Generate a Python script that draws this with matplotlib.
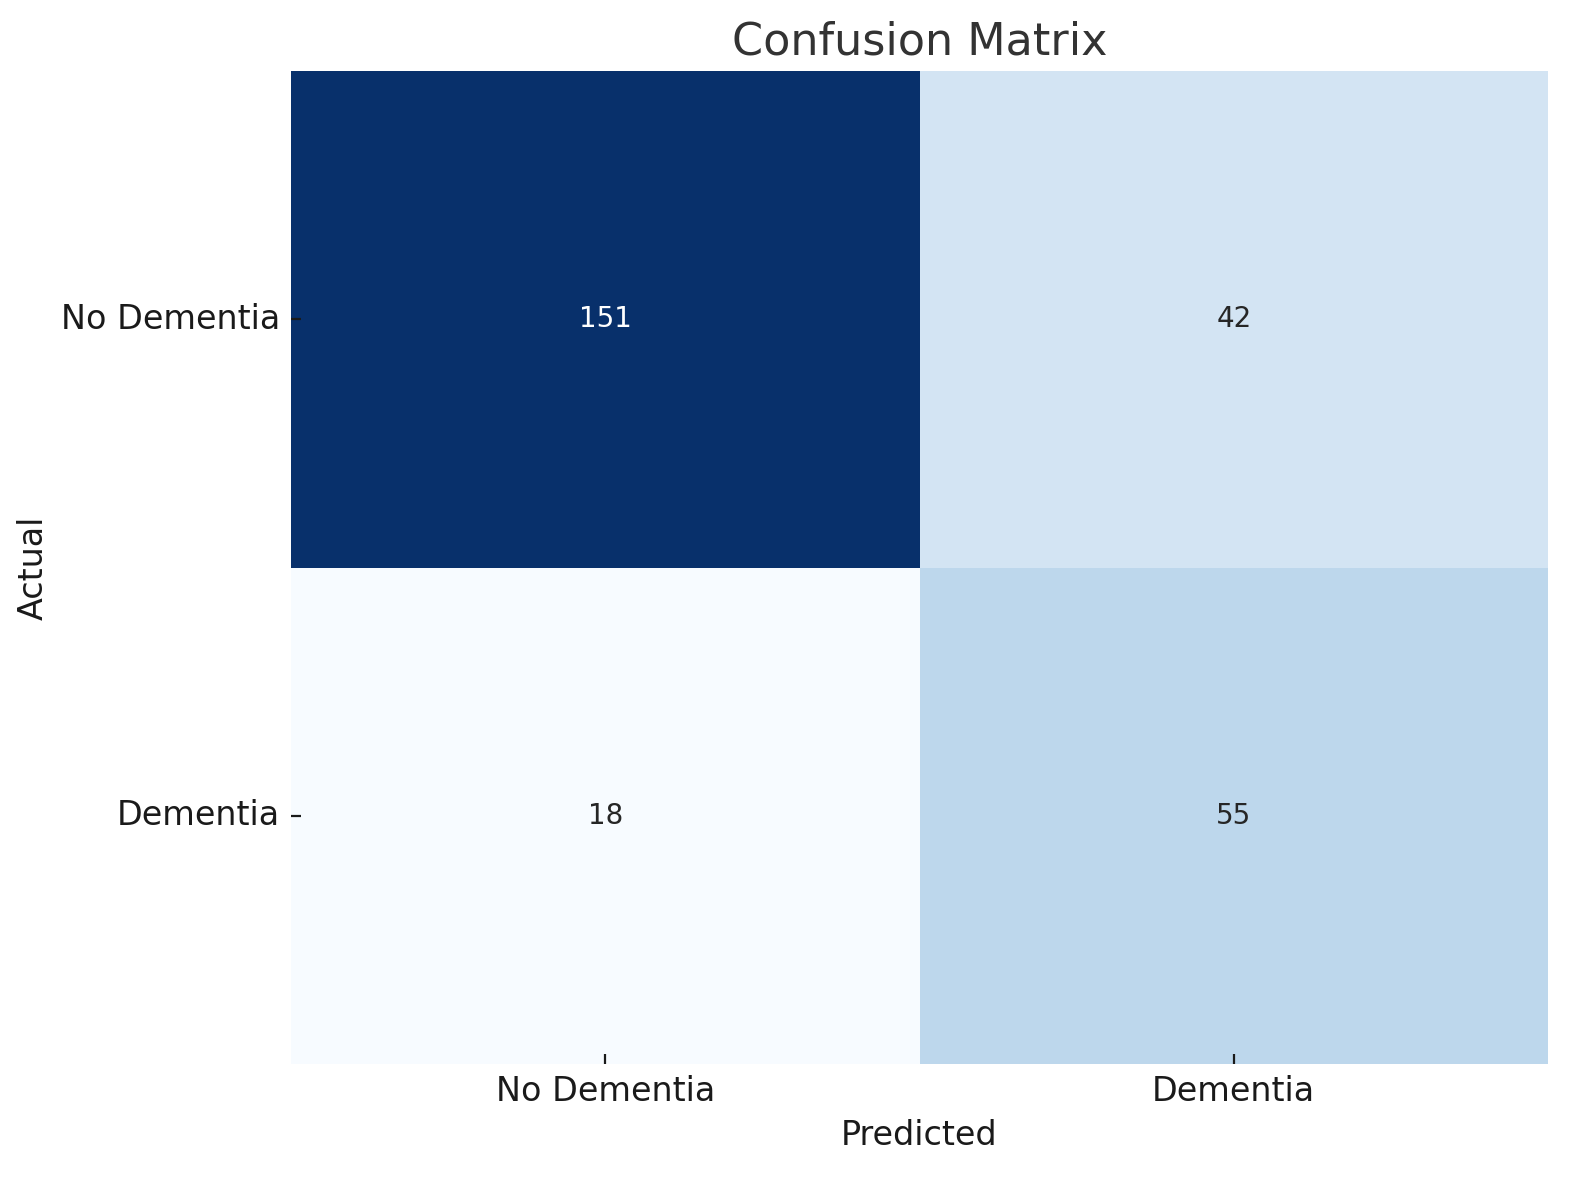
import numpy as np
import matplotlib
matplotlib.use("Agg")
import matplotlib.pyplot as plt
import seaborn as sns

# confusion matrix values
labels = ["No Dementia", "Dementia"]
row_no_dementia = [151, 42]
row_dementia = [18, 55]

cm = np.array([row_no_dementia, row_dementia])

sns.set_style("ticks")
plt.rcParams['font.family'] = ['DejaVu Sans']

fig = plt.figure(figsize=(7.9, 5.9), dpi=200)
ax = fig.add_axes([291 / 1580, 1 - 1064 / 1180, (1548 - 291) / 1580, (1064 - 71) / 1180])

sns.heatmap(cm, annot=True, fmt="d", cmap="Blues", cbar=False,
            xticklabels=labels, yticklabels=labels,
            annot_kws={"size": 10}, ax=ax)

ax.set_axisbelow(False)
ax.set_title("Confusion Matrix", fontsize=16, color="#333333")
ax.set_xlabel("Predicted", fontsize=12, color="#1a1a1a")
ax.set_ylabel("Actual", fontsize=12, color="#1a1a1a")
ax.tick_params(axis="both", direction="in", length=3.5, width=0.8,
               labelsize=12, colors="#1a1a1a", pad=4,
               bottom=True, left=True)
plt.setp(ax.get_yticklabels(), rotation=0)

fig.savefig("out.png", dpi=200)
